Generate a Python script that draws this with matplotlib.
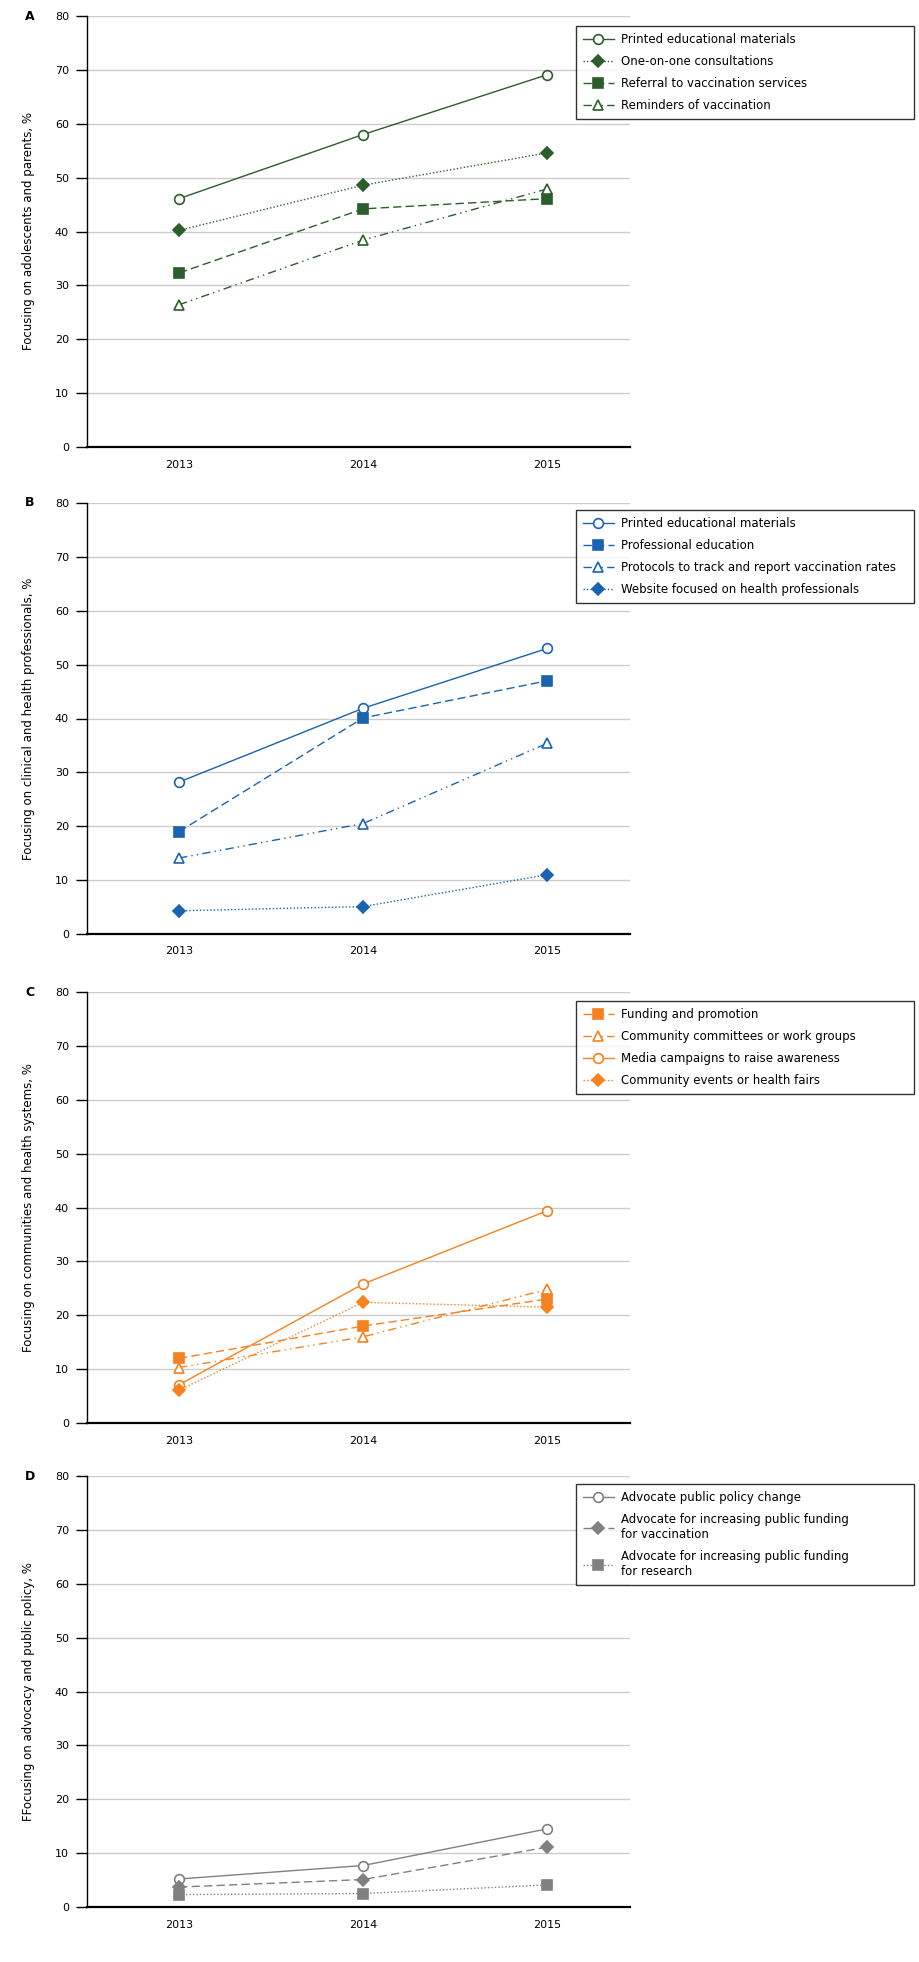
import matplotlib
matplotlib.use("Agg")
import matplotlib.pyplot as plt

years = [2013, 2014, 2015]

# panel A - adolescents and parents
a_labels = ["Printed educational materials", "One-on-one consultations",
            "Referral to vaccination services", "Reminders of vaccination"]
a_printed = [46.1, 58.0, 69.1]
a_consult = [40.2, 48.6, 54.6]
a_referral = [32.3, 44.2, 46.1]
a_reminders = [26.4, 38.4, 47.9]

# panel B - clinical and health professionals
b_labels = ["Printed educational materials", "Professional education",
            "Protocols to track and report vaccination rates",
            "Website focused on health professionals"]
b_printed = [28.2, 41.9, 53.0]
b_profed = [19.0, 40.1, 47.0]
b_protocols = [14.1, 20.5, 35.4]
b_website = [4.3, 5.1, 11.0]

# panel C - communities and health systems
c_labels = ["Funding and promotion", "Community committees or work groups",
            "Media campaigns to raise awareness", "Community events or health fairs"]
c_funding = [12.0, 18.0, 23.0]
c_committees = [10.3, 16.0, 24.8]
c_media = [7.1, 25.8, 39.4]
c_events = [6.1, 22.4, 21.5]

# panel D - advocacy and public policy
d_labels = ["Advocate public policy change",
            "Advocate for increasing public funding\nfor vaccination",
            "Advocate for increasing public funding\nfor research"]
d_policy = [5.2, 7.7, 14.5]
d_vacc = [3.7, 5.1, 11.1]
d_research = [2.3, 2.5, 4.1]

green = "#2b5e2b"
blue = "#1a63b0"
orange = "#f5821f"
grey = "#808080"

solid = "-"
dotted = (0, (1, 1.5))
dashed = (0, (6, 3))
dashdotdot = (0, (6, 3, 1, 3, 1, 3))

W, H = 920, 1962
fig = plt.figure(figsize=(W / 100, H / 100), dpi=100)

panels = [
    ("A", 16, 447, "Focusing on adolescents and parents, %", 26, [
        (a_printed, a_labels[0], green, solid, "o", "white"),
        (a_consult, a_labels[1], green, dotted, "D", green),
        (a_referral, a_labels[2], green, dashed, "s", green),
        (a_reminders, a_labels[3], green, dashdotdot, "^", "white"),
    ]),
    ("B", 503, 934, "Focusing on clinical and health professionals, %", 510, [
        (b_printed, b_labels[0], blue, solid, "o", "white"),
        (b_profed, b_labels[1], blue, dashed, "s", blue),
        (b_protocols, b_labels[2], blue, dashdotdot, "^", "white"),
        (b_website, b_labels[3], blue, dotted, "D", blue),
    ]),
    ("C", 992, 1423, "Focusing on communities and health systems, %", 1001, [
        (c_funding, c_labels[0], orange, dashed, "s", orange),
        (c_committees, c_labels[1], orange, dashdotdot, "^", "white"),
        (c_media, c_labels[2], orange, solid, "o", "white"),
        (c_events, c_labels[3], orange, dotted, "D", orange),
    ]),
    ("D", 1476, 1907, "FFocusing on advocacy and public policy, %", 1484, [
        (d_policy, d_labels[0], grey, solid, "o", "white"),
        (d_vacc, d_labels[1], grey, dashed, "D", grey),
        (d_research, d_labels[2], grey, dotted, "s", grey),
    ]),
]

left, right = 87, 630
for letter, top, bottom, ylab, leg_top, series in panels:
    ax = fig.add_axes([left / W, 1 - bottom / H, (right - left) / W, (bottom - top) / H])
    for vals, lab, col, ls, mk, fc in series:
        ms = 7 if mk != "D" else 6
        ax.plot(years, vals, color=col, linestyle=ls, lw=1, marker=mk, markersize=ms,
                markerfacecolor=fc, markeredgecolor=col, markeredgewidth=1.2, label=lab)
    ax.set_xlim(2012.5, 2015.45)
    ax.set_ylim(0, 80)
    ax.set_yticks(range(0, 81, 10))
    ax.set_xticks(years)
    ax.grid(axis="y", color="#cccccc", lw=1)
    ax.set_axisbelow(True)
    for s in ["top", "right"]:
        ax.spines[s].set_visible(False)
    ax.spines["left"].set_linewidth(1)
    ax.spines["bottom"].set_linewidth(1.6)
    ax.tick_params(axis="y", length=8, width=1, pad=5, labelsize=8)
    ax.tick_params(axis="x", length=0, pad=9, labelsize=8)
    ax.set_ylabel(ylab, fontsize=8.5)
    ax.yaxis.set_label_coords(-0.095, 0.5)
    fig.text(30 / W, 1 - top / H, letter, fontsize=9, fontweight="bold",
             ha="center", va="center")
    leg = ax.legend(loc="upper left", bbox_to_anchor=(576 / W, 1 - leg_top / H, 338 / W, 0),
                    bbox_transform=fig.transFigure, mode="expand", fontsize=8.5,
                    frameon=True, fancybox=False, borderaxespad=0, handlelength=2.6,
                    labelspacing=0.75, borderpad=0.6, handletextpad=0.6)
    leg.get_frame().set_edgecolor("black")
    leg.get_frame().set_linewidth(1)

fig.savefig("out.png", dpi=100, facecolor="white")
